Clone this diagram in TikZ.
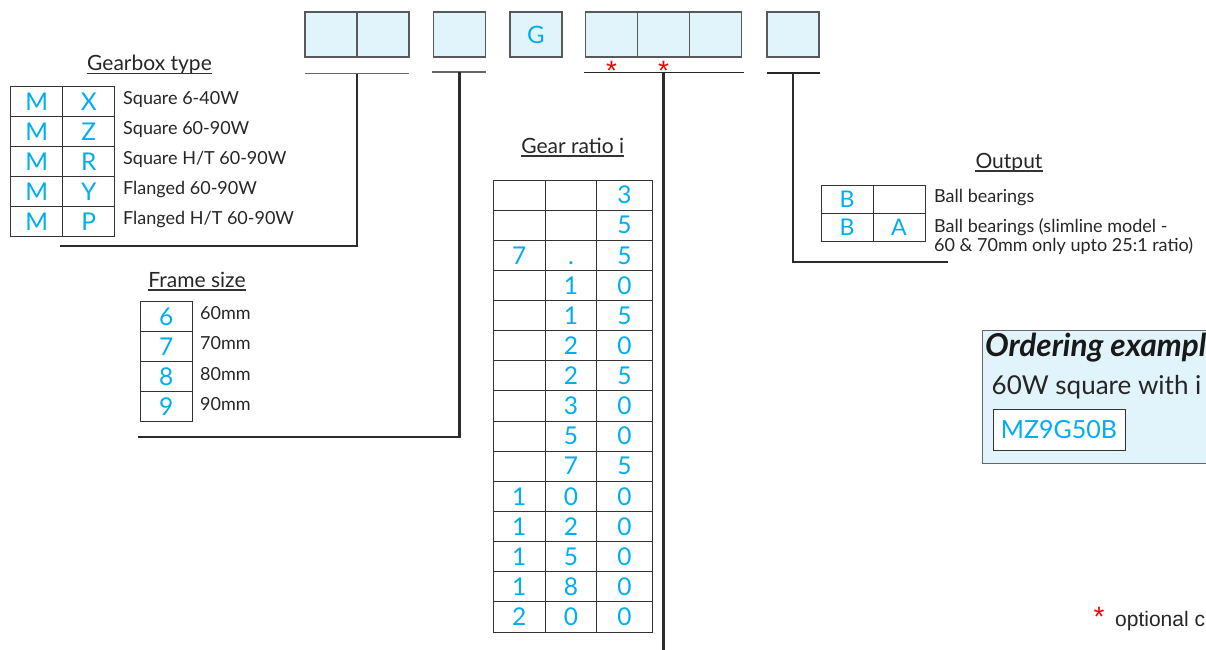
\documentclass[tikz,border=0pt]{standalone}
\usepackage{fontspec}
\setmainfont{Lato}
\newfontfamily\arialfont{Liberation Sans}
\usetikzlibrary{positioning}

\definecolor{codeblue}{HTML}{00AEEF}
\definecolor{boxfill}{HTML}{E1F3FB}
\definecolor{leadgray}{HTML}{2B2B2B}

\tikzset{
    codebox/.style={draw=black!65, line width=1.2pt, fill=boxfill, outer sep=0pt,
        minimum width=52pt, minimum height=45pt, inner sep=0pt, text=codeblue,
        text height=17pt, text depth=0pt, font=\fontsize{24}{24}\selectfont},
    cell/.style={draw=black!80, line width=0.9pt, outer sep=0pt, minimum width=52pt,
        minimum height=30pt, inner sep=0pt, text=codeblue, text height=17.5pt,
        text depth=0pt, font=\fontsize{24.5}{25}\selectfont},
    desc/.style={anchor=base west, inner sep=0pt, text=black!85, font=\fontsize{18}{18}\selectfont},
    heading/.style={anchor=base, inner sep=0pt, text=black!85, font=\fontsize{21}{22}\selectfont},
    uline/.style={black!80, line width=1.2pt},
    tick/.style={black!60, line width=1.6pt},
    leader/.style={leadgray, line width=2.4pt},
    redstar/.style={inner sep=0pt, text=red, font=\arialfont\fontsize{28}{28}\selectfont}
}

\begin{document}
\begin{tikzpicture}[x=1pt, y=-1pt]
    \useasboundingbox (0,0) rectangle (1206,649);
    \clip (0,0) rectangle (1206,649);

    % code line
    \node[codebox] (mA) at (331,34.5) {};
    \node[codebox, right=0pt of mA] (mB) {};
    \node[codebox] (fs) at (459.5,34.5) {};
    \node[codebox] (gg) at (536,34.5) {G};
    \node[codebox] (rA) at (611.5,34.5) {};
    \node[codebox, right=0pt of rA] (rB) {};
    \node[codebox, right=0pt of rB] (rC) {};
    \node[codebox] (ob) at (793,34.5) {};

    \draw[tick] ([yshift=-16.5pt]mA.south west) -- ([yshift=-16.5pt]mB.south east);
    \draw[tick] ([xshift=-2pt,yshift=-15pt]fs.south west) -- ([yshift=-15pt]fs.south east);
    \draw[tick, black!85] ([xshift=-2pt,yshift=-15.5pt]rA.south west) -- ([xshift=2pt,yshift=-15.5pt]rC.south east);
    \draw[tick, black!85] ([yshift=-16pt]ob.south west) -- ([xshift=1pt,yshift=-16pt]ob.south east);

    \node[redstar] (s1) at ([yshift=-13.5pt]rA.south) {*};
    \node[redstar] (s2) at ([yshift=-13.5pt]rB.south) {*};

    % leaders
    \coordinate (gbend) at (60,246);
    \coordinate (fsend) at (138,437);
    \coordinate (grend) at (663,660);
    \coordinate (obend) at (948,262);
    \draw[leader] ([yshift=-16.5pt]mA.south east) |- (gbend);
    \draw[leader] ([yshift=-15pt]fs.south) |- (fsend);
    \draw[leader] ([yshift=-15.5pt]rB.south) -- (rB.south |- grend);
    \draw[leader] ([yshift=-16pt]ob.south) |- (obend);

    % gearbox type
    \node[heading] (gbt) at (149.5,70.7) {Gearbox type};
    \draw[uline] ([yshift=-3pt]gbt.base west) -- ([yshift=-3pt]gbt.base east);
    \foreach \l/\t [count=\r] in {X/{Square 6-40W}, Z/{Square 60-90W}, R/{Square H/T 60-90W},
            Y/{Flanged 60-90W}, P/{Flanged H/T 60-90W}} {
        \node[cell, minimum height=29.9pt] (gm\r) at (36.7,{101.7+29.9*(\r-1)}) {M};
        \node[cell, minimum height=29.9pt, right=0pt of gm\r] (gl\r) {\l};
        \node[desc] (gd\r) at (123,{104+30.1*(\r-1)}) {\t};
    }

    % frame size
    \node[heading] (fst) at (197,287) {Frame size};
    \draw[uline] ([yshift=-3pt]fst.base west) -- ([yshift=-3pt]fst.base east);
    \foreach \n [count=\r] in {6,7,8,9} {
        \node[cell, minimum width=52.7pt] (fc\r) at (166.3,{316.7+30*(\r-1)}) {\n};
        \node[desc] (fd\r) at (200,{319+30.5*(\r-1)}) {\n0mm};
    }

    % gear ratio
    \node[heading] (grt) at (572.7,153.5) {Gear ratio i};
    \draw[uline] ([yshift=-2.5pt]grt.base west) -- ([yshift=-2.5pt]grt.base east);
    \foreach \a/\b/\c [count=\r] in {{}/{}/3, {}/{}/5, 7/./5, {}/1/0, {}/1/5, {}/2/0, {}/2/5, {}/3/0,
            {}/5/0, {}/7/5, 1/0/0, 1/2/0, 1/5/0, 1/8/0, 2/0/0} {
        \node[cell, minimum width=51.7pt, minimum height=30.13pt] (ga\r) at (519.2,{164.93+30.13*\r}) {\a};
        \node[cell, minimum width=51.7pt, minimum height=30.13pt, right=0pt of ga\r] (gb\r) {\b};
        \node[cell, minimum width=55.6pt, minimum height=30.13pt, right=0pt of gb\r] (gc\r) {\c};
    }

    % output
    \node[heading] (obt) at (1009,168) {Output};
    \draw[uline] ([yshift=-3pt]obt.base west) -- ([yshift=-3pt]obt.base east);
    \node[cell, minimum height=28pt, font=\fontsize{23}{23}\selectfont] (oa1) at (847,199) {B};
    \node[cell, minimum height=28pt, right=0pt of oa1] (ob1) {};
    \node[cell, minimum height=28pt, below=0pt of oa1, font=\fontsize{23}{23}\selectfont] (oa2) {B};
    \node[cell, minimum height=28pt, right=0pt of oa2, font=\fontsize{23}{23}\selectfont] (ob2) {A};
    \node[desc] (od1) at (934,202.7) {Ball bearings};
    \node[desc] (od2) at (934,232.7) {Ball bearings (slimline model -};
    \node[desc] (od3) at (934,251) {60 \& 70mm only upto 25:1 ratio)};

    % ordering example
    \draw[black!60, line width=1pt, fill=boxfill] (982,330) rectangle (1215,463);
    \node[anchor=base west, inner sep=0pt, text=black!90, font=\fontsize{31.5}{32}\selectfont\bfseries\itshape] (oet) at (985,356) {Ordering exampl};
    \node[anchor=base west, inner sep=0pt, text=black!85, font=\fontsize{26}{28}\selectfont] (oes) at (991.5,394) {60W square with i};
    \node[draw=black!80, line width=1pt, fill=white, minimum width=132pt, minimum height=41pt, inner sep=0pt,
        text=codeblue, font=\fontsize{25}{25}\selectfont] (oec) at (1059,429.5) {MZ9G50B};

    % footnote
    \node[redstar] (fstar) at (1099,617) {*};
    \node[anchor=base west, inner sep=0pt, text=black!85, font=\arialfont\fontsize{21}{22}\selectfont] (fnote) at (1115,626) {optional c};
\end{tikzpicture}
\end{document}
